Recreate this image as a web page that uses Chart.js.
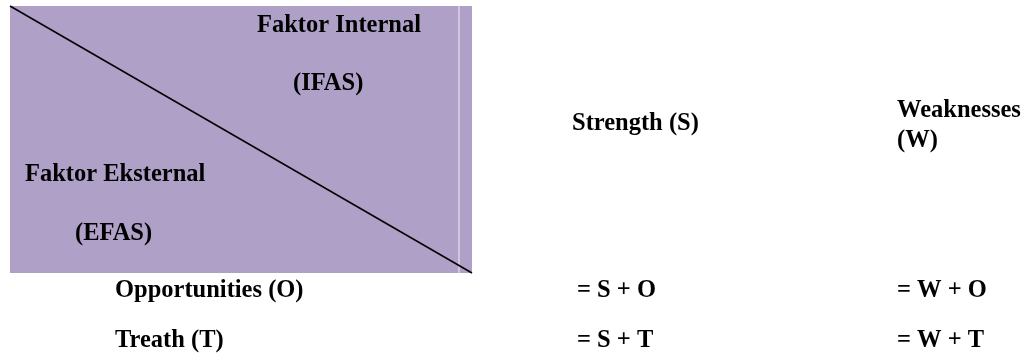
<!DOCTYPE html>
<html>
<head>
<meta charset="utf-8">
<title>Matriks SWOT</title>
<script src="https://cdn.jsdelivr.net/npm/chart.js@4.4.1/dist/chart.umd.min.js"></script>
<style>
    html, body { margin: 0; padding: 0; background: #ffffff; }
    #wrap { width: 1028px; height: 360px; position: relative; }
</style>
</head>
<body>
<div id="wrap"><canvas id="swotChart"></canvas></div>
<script>
// SWOT matrix - drawn on a hidden x/y scale

// Data
const internalHeader = ['Faktor Internal', '(IFAS)'];
const externalHeader = ['Faktor Eksternal', '(EFAS)'];
const columnLabels = [['Strength (S)'], ['Weaknesses', '(W)']];
const rowLabels = ['Opportunities (O)', 'Treath (T)'];
const strengthCells = ['= S + O', '= S + T'];
const weaknessCells = ['= W + O', '= W + T'];

// Layout (scale units = pixels of the 1028x360 frame)
const box = { left: 10, right: 472, top: 6, bottom: 273, seam: 459 };
const columnX = [572, 897];
const cellX = [577, 897];
const rowLabelX = 115;
const rowY = [291, 341];
const fontSize = 24.5;

// Text overlay plugin - positions go through the chart scales
const textPlugin = {
    id: 'swotText',
    afterDatasetsDraw(chart) {
        const ctx = chart.ctx;
        const xs = chart.scales.x;
        const ys = chart.scales.y;
        const put = (text, x, y, align) => {
            ctx.textAlign = align || 'left';
            ctx.fillText(text, xs.getPixelForValue(x), ys.getPixelForValue(y));
        };

        ctx.save();
        ctx.fillStyle = '#000000';
        ctx.textBaseline = 'middle';
        ctx.font = 'bold ' + fontSize + 'px "Liberation Serif", "Times New Roman", serif';

        // header inside the purple box
        put(internalHeader[0], 257, 26);
        put(internalHeader[1], 293, 84);
        put(externalHeader[0], 25, 175);
        put(externalHeader[1], 75, 234);

        // column headers
        put(columnLabels[0][0], columnX[0], 124);
        put(columnLabels[1][0], columnX[1], 111);
        put(columnLabels[1][1], columnX[1], 141);

        // rows
        rowLabels.forEach((label, i) => {
            put(label, rowLabelX, rowY[i]);
            put(strengthCells[i], cellX[0], rowY[i]);
            put(weaknessCells[i], cellX[1], rowY[i]);
        });
        ctx.restore();
    }
};

const ctx = document.getElementById('swotChart').getContext('2d');
const swotChart = new Chart(ctx, {
    type: 'line',
    data: {
        datasets: [
            {
                // diagonal split of the corner cell
                data: [{ x: box.left, y: box.top }, { x: box.right, y: box.bottom }],
                borderColor: '#000000',
                borderWidth: 1.5,
                pointRadius: 0,
                fill: false,
                order: 1
            },
            {
                // light seam near the right edge of the box
                data: [{ x: box.seam, y: box.top }, { x: box.seam, y: box.bottom }],
                borderColor: '#d6cce2',
                borderWidth: 1,
                pointRadius: 0,
                fill: false,
                order: 2
            },
            {
                // purple corner cell
                data: [{ x: box.left, y: box.top }, { x: box.right, y: box.top }],
                borderWidth: 0,
                borderColor: 'rgba(0,0,0,0)',
                backgroundColor: '#afa0c7',
                pointRadius: 0,
                fill: { value: box.bottom },
                order: 3
            }
        ]
    },
    options: {
        responsive: true,
        maintainAspectRatio: false,
        animation: false,
        layout: { padding: 0 },
        plugins: {
            legend: { display: false },
            tooltip: { enabled: false }
        },
        scales: {
            x: { type: 'linear', min: 0, max: 1028, display: false },
            y: { type: 'linear', min: 0, max: 360, reverse: true, display: false }
        }
    },
    plugins: [textPlugin]
});
</script>
</body>
</html>
